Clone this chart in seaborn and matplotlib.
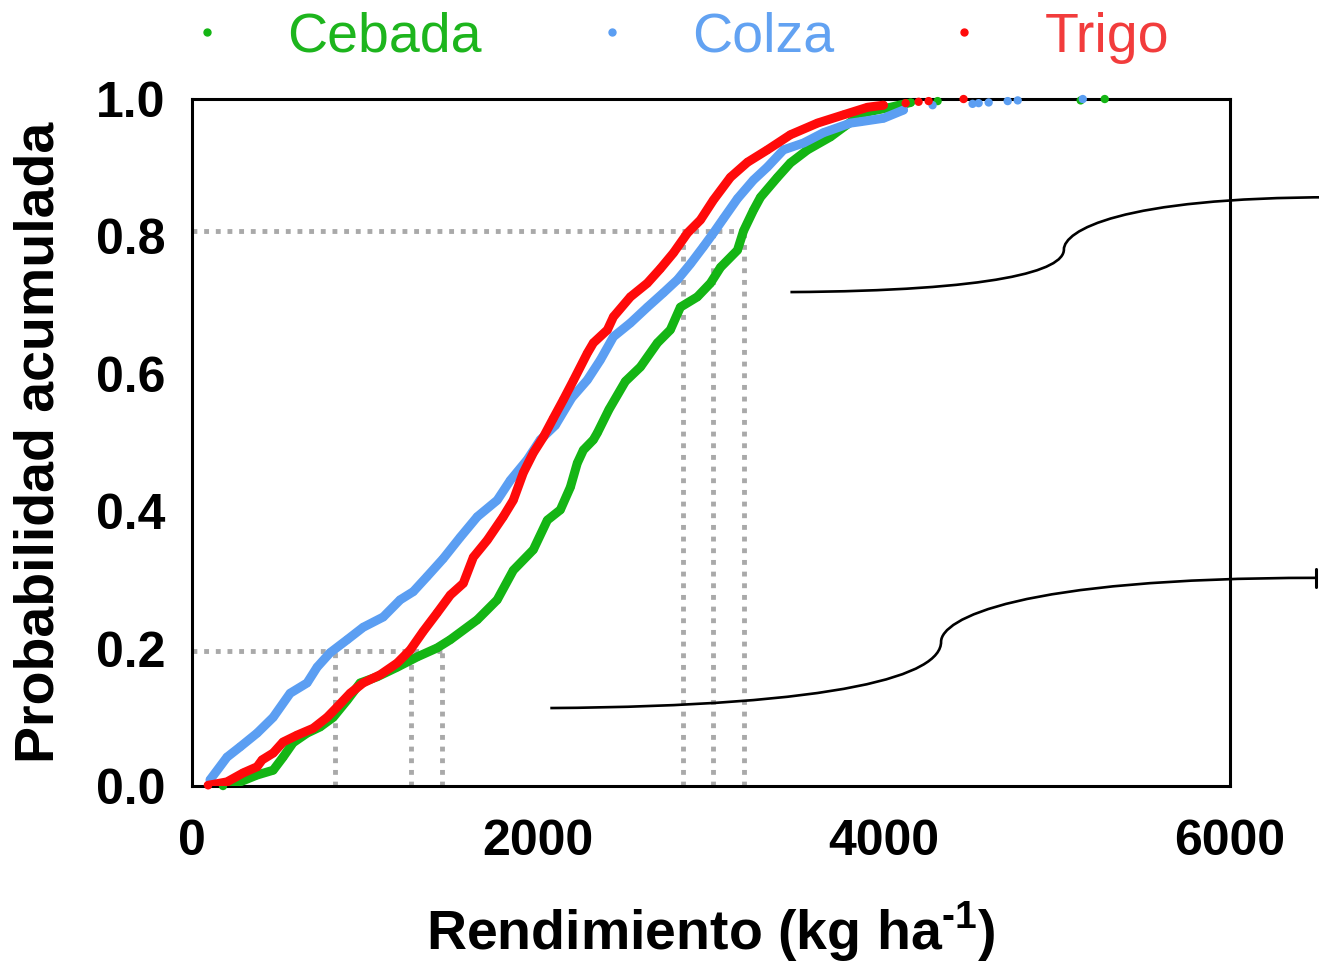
import numpy as np
import pandas as pd
import matplotlib
matplotlib.use("Agg")
import matplotlib.pyplot as plt
import seaborn as sns
from matplotlib.path import Path
from matplotlib.patches import PathPatch
from matplotlib.lines import Line2D

# rendimiento (kg/ha) y probabilidad acumulada
cebada_x = [179, 278, 376, 469, 526, 584, 665, 740, 816, 897, 972, 1070, 1186, 1302, 1417,
            1493, 1649, 1764, 1857, 1973, 2054, 2129, 2187, 2227, 2262, 2320, 2343, 2410,
            2505, 2592, 2690, 2765, 2823, 2921, 2997, 3055, 3153, 3188, 3245, 3286, 3384,
            3459, 3558, 3691, 3766, 3882, 4038, 4154]
cebada_p = [0.0, 0.006, 0.016, 0.023, 0.042, 0.063, 0.077, 0.086, 0.100, 0.125, 0.150, 0.159,
            0.173, 0.188, 0.201, 0.213, 0.242, 0.271, 0.314, 0.344, 0.387, 0.402, 0.435,
            0.470, 0.489, 0.504, 0.514, 0.548, 0.589, 0.610, 0.645, 0.664, 0.697, 0.712,
            0.732, 0.755, 0.780, 0.808, 0.838, 0.857, 0.886, 0.907, 0.926, 0.945, 0.959,
            0.980, 0.988, 0.995]
cebada_tail_x = [4310, 5137, 5276]
cebada_tail_p = [0.997, 0.998, 1.0]

colza_x = [104, 202, 278, 376, 469, 567, 665, 723, 798, 897, 989, 1105, 1203, 1279, 1359,
           1452, 1550, 1649, 1764, 1840, 1938, 2013, 2100, 2195, 2285, 2360, 2436, 2534,
           2632, 2725, 2806, 2881, 2956, 3014, 3072, 3153, 3245, 3326, 3419, 3535, 3650,
           3807, 3864, 3997, 4113]
colza_p = [0.009, 0.042, 0.057, 0.077, 0.100, 0.135, 0.150, 0.173, 0.194, 0.213, 0.231,
           0.246, 0.271, 0.283, 0.305, 0.331, 0.362, 0.392, 0.416, 0.445, 0.475, 0.504,
           0.525, 0.565, 0.591, 0.620, 0.654, 0.674, 0.697, 0.718, 0.737, 0.760, 0.785,
           0.805, 0.826, 0.855, 0.882, 0.901, 0.926, 0.936, 0.951, 0.965, 0.967, 0.972, 0.984]
colza_tail_x = [4281, 4512, 4547, 4605, 4715, 4773, 5149]
colza_tail_p = [0.991, 0.993, 0.994, 0.995, 0.997, 0.998, 1.0]

trigo_x = [93, 202, 295, 376, 405, 469, 526, 607, 700, 781, 839, 914, 989, 1088, 1186, 1261,
           1336, 1417, 1493, 1568, 1626, 1707, 1799, 1857, 1915, 1973, 2031, 2088, 2146,
           2204, 2285, 2320, 2401, 2436, 2534, 2632, 2707, 2783, 2864, 2939, 3014, 3112,
           3211, 3326, 3459, 3616, 3766, 3905, 3997]
trigo_p = [0.001, 0.006, 0.019, 0.028, 0.038, 0.048, 0.064, 0.074, 0.084, 0.100, 0.115,
           0.135, 0.150, 0.162, 0.179, 0.198, 0.225, 0.252, 0.278, 0.295, 0.333, 0.358,
           0.392, 0.416, 0.456, 0.485, 0.508, 0.535, 0.562, 0.590, 0.630, 0.645, 0.664,
           0.683, 0.712, 0.732, 0.753, 0.776, 0.805, 0.824, 0.853, 0.886, 0.908, 0.926,
           0.948, 0.965, 0.977, 0.988, 0.991]
trigo_tail_x = [4125, 4200, 4258, 4460]
trigo_tail_p = [0.994, 0.996, 0.997, 1.0]

# percentiles 20 y 80 (colza, trigo, cebada / trigo, colza, cebada)
q20_x = [827, 1267, 1446]
q80_x = [2840, 3014, 3193]
q20_p = 0.197
q80_p = 0.808

cultivos = ["Cebada", "Colza", "Trigo"]
colores = {"Cebada": "#14b514", "Colza": "#5b9ef2", "Trigo": "#ff0a0a"}
colores_texto = {"Cebada": "#1db51d", "Colza": "#62a2f2", "Trigo": "#f23c3c"}

main = pd.concat([
    pd.DataFrame({"x": cebada_x, "p": cebada_p, "cultivo": "Cebada"}),
    pd.DataFrame({"x": colza_x, "p": colza_p, "cultivo": "Colza"}),
    pd.DataFrame({"x": trigo_x, "p": trigo_p, "cultivo": "Trigo"}),
])
tail = pd.concat([
    pd.DataFrame({"x": cebada_tail_x, "p": cebada_tail_p, "cultivo": "Cebada"}),
    pd.DataFrame({"x": colza_tail_x, "p": colza_tail_p, "cultivo": "Colza"}),
    pd.DataFrame({"x": trigo_tail_x, "p": trigo_tail_p, "cultivo": "Trigo"}),
])

sns.set_style("white")
plt.rcParams["font.family"] = ["Liberation Sans", "DejaVu Sans"]
plt.rcParams.update({"text.color": "black", "axes.labelcolor": "black",
                     "xtick.color": "black", "ytick.color": "black",
                     "mathtext.fontset": "custom",
                     "mathtext.rm": "Liberation Sans:bold",
                     "mathtext.bf": "Liberation Sans:bold"})

fig = plt.figure(figsize=(13.19, 9.68), dpi=100)
ax = fig.add_axes([0.1456, 0.188, 0.9325 - 0.1456, 0.8977 - 0.188])

# lineas punteadas de referencia
gris = "#a9a9a9"
ls = (0, (1, 1.4))
ax.plot([0, max(q20_x)], [q20_p, q20_p], color=gris, lw=3.5, ls=ls, zorder=1)
ax.plot([0, max(q80_x)], [q80_p, q80_p], color=gris, lw=3.5, ls=ls, zorder=1)
for xv in q20_x:
    ax.plot([xv, xv], [0, q20_p], color=gris, lw=3.5, ls=ls, zorder=1)
for xv in q80_x:
    ax.plot([xv, xv], [0, q80_p], color=gris, lw=3.5, ls=ls, zorder=1)

for c in cultivos:
    sns.lineplot(data=main[main.cultivo == c], x="x", y="p", color=colores[c], lw=6.5,
                 estimator=None, sort=False, ax=ax, zorder=3)
    sns.scatterplot(data=pd.concat([main[main.cultivo == c], tail[tail.cultivo == c]]),
                    x="x", y="p", color=colores[c], s=36, edgecolor="none", ax=ax,
                    zorder=3, clip_on=False)


def llave(x0, y0, xk, yk, x1, y1):
    verts = [(x0, y0), (x0 + 0.75 * (xk - x0), y0 + 0.03 * (yk - y0)),
             (xk, yk - 0.5 * (yk - y0)), (xk, yk),
             (xk, yk + 0.35 * (y1 - yk)), (xk + 0.2 * (x1 - xk), y1), (x1, y1)]
    codes = [Path.MOVETO] + [Path.CURVE4] * 6
    ax.add_patch(PathPatch(Path(verts, codes), fill=False, ec="black", lw=1.9,
                           clip_on=False, zorder=4))


llave(3459, 0.719, 5040, 0.781, 6600, 0.857)
llave(2071, 0.1135, 4330, 0.210, 6500, 0.303)
ax.plot([6500, 6500], [0.290, 0.316], color="black", lw=2.2, clip_on=False)

ax.set_xlim(0, 6000)
ax.set_ylim(0, 1.0)
ax.set_xticks([0, 2000, 4000, 6000])
ax.set_yticks([0.0, 0.2, 0.4, 0.6, 0.8, 1.0])
ax.set_yticklabels(["0.0", "0.2", "0.4", "0.6", "0.8", "1.0"])
for s in ax.spines.values():
    s.set_linewidth(2.2)
    s.set_color("black")
ax.tick_params(direction="out", length=12, width=2.2, labelsize=36, color="black")
ax.tick_params(axis="x", pad=12)
ax.tick_params(axis="y", pad=7)
for lab in ax.get_xticklabels() + ax.get_yticklabels():
    lab.set_fontweight("bold")

ax.set_xlabel("Rendimiento (kg ha$^{\\text{-1}}$)", fontsize=40, fontweight="bold",
              labelpad=25)
ax.set_ylabel("Probabilidad acumulada", fontsize=40, fontweight="bold", labelpad=22)

handles = [Line2D([], [], marker="o", ls="none", markersize=5, color=colores[c])
           for c in cultivos]
fig.legend(handles, cultivos, loc="center", bbox_to_anchor=(0.511, 0.961), ncol=3,
           frameon=False, fontsize=40, handlelength=1.0, handletextpad=0.94,
           columnspacing=1.85, labelcolor=[colores_texto[c] for c in cultivos])

fig.savefig("out.png", dpi=100)
